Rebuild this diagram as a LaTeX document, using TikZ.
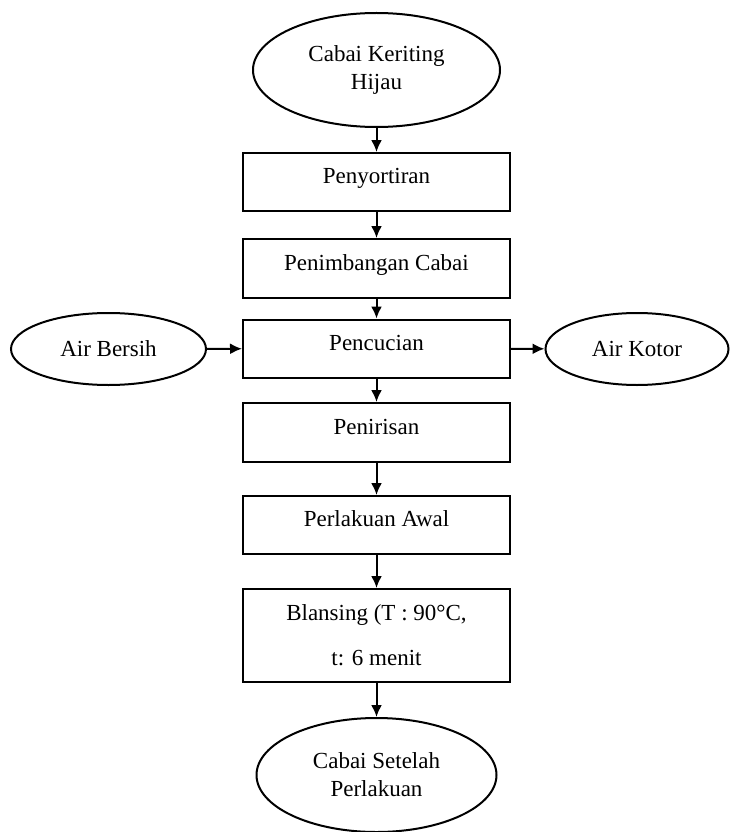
\documentclass[tikz,border=0pt]{standalone}
\usepackage{fontspec}
\setmainfont{Liberation Serif}
\usetikzlibrary{arrows.meta,positioning,shapes.geometric,graphs}

\begin{document}
\begin{tikzpicture}
	% Styles
	[
	x=1pt, y=-1pt,
	font=\fontsize{23}{28}\selectfont,
	line width=2pt,
	>={Latex[length=12pt,width=11pt]},
	box/.style={rectangle,draw,minimum width=267pt,minimum height=58pt,inner sep=0pt,text height=16pt,text depth=13pt},
	term/.style={ellipse,draw,inner sep=0pt,align=center},
	]
	\useasboundingbox (0,0) rectangle (729,832);

	% Nodes
	\node at (376.5,70)	(raw)	[term,minimum width=247pt,minimum height=114pt] {Cabai Keriting\\Hijau};
	\node at (376.5,182)	(sortir)	[box] {Penyortiran};
	\node at (376.5,268.5)	(timbang)	[box,minimum height=59pt] {Penimbangan Cabai};
	\node at (376.5,348.5)	(cuci)	[box] {Pencucian};
	\node at (376.5,432.5)	(tiris)	[box,minimum height=59pt] {Penirisan};
	\node at (376.5,525)	(awal)	[box] {Perlakuan Awal};
	\node at (376.5,635.5)	(blansing)	[box,minimum height=93pt,text height={},text depth={},align=center] {Blansing (T : 90°C,\\[17pt]t: 6 menit};
	\node at (376.5,775)	(hasil)	[term,minimum width=240pt,minimum height=114pt] {Cabai Setelah\\Perlakuan};
	\node at (108.5,349)	(airin)	[term,minimum width=195pt,minimum height=72pt] {Air Bersih};
	\node at (637,349)	(airout)	[term,minimum width=183pt,minimum height=72pt] {Air Kotor};

	% Connections
	\graph[use existing nodes] {
		raw -> sortir;
		sortir -> timbang;
		timbang -> cuci;
		cuci -> tiris;
		tiris -> awal;
		awal -> blansing;
		blansing -> hasil;
		airin -> cuci;
		cuci -> airout;
	};

\end{tikzpicture}
\end{document}
